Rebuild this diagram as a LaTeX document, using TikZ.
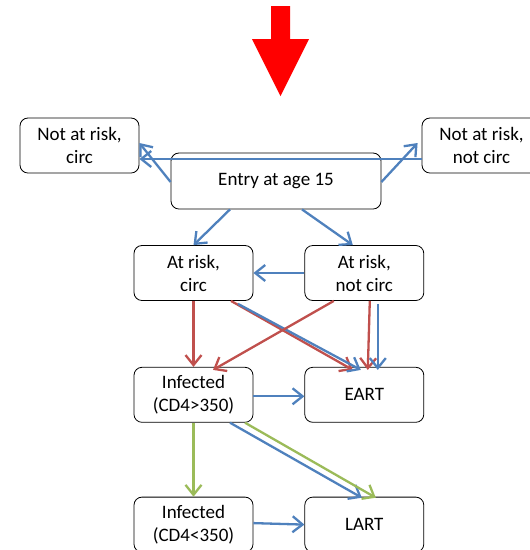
\documentclass[tikz,border=0pt]{standalone}
\usepackage{fontspec}
\setmainfont{Carlito}
\usetikzlibrary{arrows.meta,positioning}
\definecolor{FlowBlue}{HTML}{4F81BD}
\definecolor{FlowRed}{HTML}{C0504D}
\definecolor{FlowGreen}{HTML}{9BBB59}
\definecolor{FlowMark}{HTML}{FF0000}

\begin{document}
\begin{tikzpicture}[
  x=1pt,y=-1pt,
  node distance=66pt and 51pt,
  box/.style={rectangle,rounded corners=2.8mm,draw=black,line width=0.8pt,fill=white,minimum width=119pt,minimum height=55pt,inner sep=0pt,align=center,font=\fontsize{19}{23}\selectfont},
  arrow/.style={-{Straight Barb[length=10pt,width=16pt]},line width=2.3pt},
  bluearrow/.style={arrow,color=FlowBlue},
  redarrow/.style={arrow,color=FlowRed},
  greenarrow/.style={arrow,color=FlowGreen}
]
\useasboundingbox (0,0) rectangle (530,550);
% entry marker
\fill[FlowMark] (271,6) -- (290,6) -- (290,39) -- (309,39) -- (280.5,96) -- (252,39) -- (271,39) -- cycle;
\node[box,minimum width=210pt,minimum height=56pt] (entry) at (276,181) {Entry at age 15};
\node[box] (notc) at (79.5,145.5) {Not at risk,\\circ};
\node[box] (notnc) at (481.5,145.5) {Not at risk,\\not circ};
\node[box] (riskc) at (193.5,273) {At risk,\\circ};
\node[box,right=of riskc] (risknc) {At risk,\\not circ};
\node[box,below=of riskc] (infhi) {Infected\\(CD4>350)};
\node[box,right=of infhi] (eart) {EART};
\node[box,below=74pt of infhi] (inflo) {Infected\\(CD4<350)};
\node[box,right=of inflo] (lart) {LART};
\draw[bluearrow] ([yshift=-13.5pt]notnc.west) -- ([yshift=-13.5pt]notc.east);
\draw[bluearrow] ([yshift=-1pt]entry.west) -- ([yshift=2.5pt]notc.east);
\draw[bluearrow] ([yshift=-1pt]entry.east) -- ([xshift=-4pt,yshift=2.5pt]notnc.west);
\draw[bluearrow] ([xshift=-46pt]entry.south) -- (riskc.north);
\draw[bluearrow] ([xshift=26pt]entry.south) -- ([xshift=-11.5pt]risknc.north);
\draw[bluearrow] (risknc.west) -- (riskc.east);
\draw[redarrow] (riskc.south) -- (infhi.north);
\draw[redarrow] ([xshift=37.5pt]riskc.south) -- ([xshift=-11.5pt,yshift=-3pt]eart.north);
\draw[bluearrow] ([xshift=44.5pt,yshift=-3pt]riskc.south) -- ([xshift=-3.5pt,yshift=-3pt]eart.north);
\draw[redarrow] ([xshift=-30.5pt]risknc.south) -- ([xshift=19.5pt,yshift=-3pt]infhi.north);
\draw[redarrow] ([xshift=5.5pt]risknc.south) -- ([xshift=3.5pt,yshift=-3pt]eart.north);
\draw[bluearrow] ([xshift=13.5pt,yshift=-3pt]risknc.south) -- ([xshift=13.5pt,yshift=-3pt]eart.north);
\draw[bluearrow] ([yshift=-1.5pt]infhi.east) -- ([yshift=-1.5pt]eart.west);
\draw[greenarrow] (infhi.south) -- (inflo.north);
\draw[bluearrow] ([xshift=36.5pt]infhi.south) -- ([xshift=-2.5pt,yshift=-1pt]lart.north);
\draw[greenarrow] ([xshift=51.5pt]infhi.south) -- ([xshift=11.5pt,yshift=-1pt]lart.north);
\draw[bluearrow] ([yshift=1.5pt]inflo.east) -- (lart.west);
\end{tikzpicture}
\end{document}
